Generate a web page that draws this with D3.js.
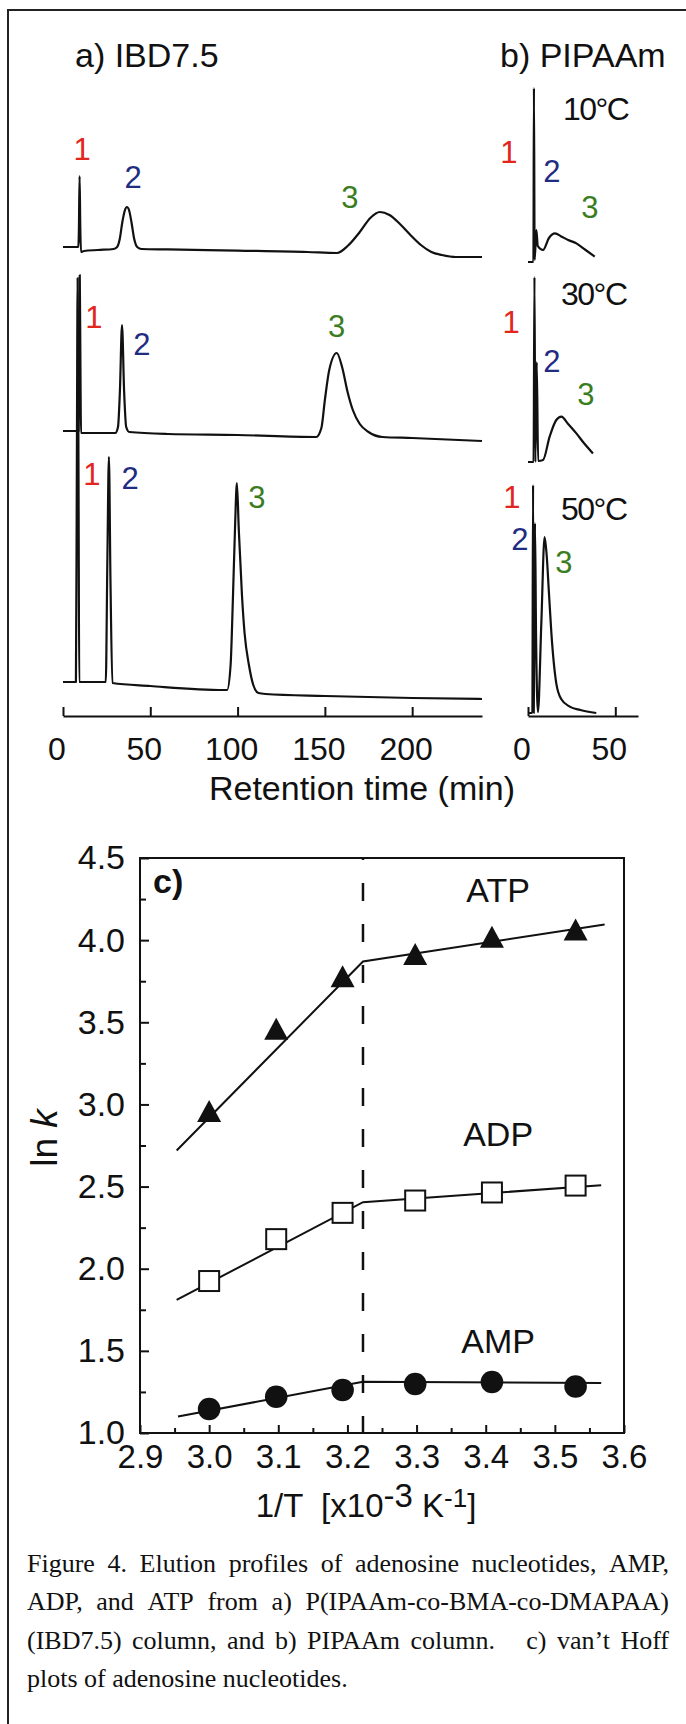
<!DOCTYPE html>
<html>
<head>
<meta charset="utf-8">
<script src="https://cdn.jsdelivr.net/npm/d3@7"></script>
<style>
  body { margin: 0; background: #fff; }
  svg { display: block; }
</style>
</head>
<body>
<div id="figure"></div>
<script>
// ---------- data ----------
const timeTicksA = [0, 50, 100, 150, 200];
const timeTicksB = [0, 50];

// panel a, IBD7.5 column: [retention time (min), signal (a.u.)]
const ibd10 = [[0,0],[8.8,0],[9.1,8],[9.5,35.5],[9.9,10],[10.3,-2.5],[12,-2],[20,-1.5],[29,-1],[31,0],[32.5,4],[34,12.5],[35.5,18.5],[36.6,20],[37.8,18.5],[39.2,12.5],[40.8,4],[42.5,0],[45,-1],[60,-1.2],[100,-1.8],[140,-2.5],[157,-3],[163,0.5],[170,7.5],[176,14.5],[181.5,17.5],[187,16],[193,11.5],[199,6],[205,1],[211,-2.5],[217,-4],[225,-5],[240,-5]];
const ibd30 = [[0,0],[8.9,0],[9.2,30],[9.6,78],[10,30],[10.3,-1],[20,-1],[30,-1],[31.5,2],[32.6,20],[33.8,53],[35,20],[36.2,2],[38,-0.5],[60,-1.5],[100,-2],[145,-3],[148,1.5],[150,15.5],[152.5,30.5],[156.8,39],[160,31.5],[163,19.5],[166,10.5],[170,3.5],[175,-0.5],[183,-3],[200,-3.5],[240,-5]];
const ibd50 = [[0,0],[7.4,0],[7.9,100],[8.4,202],[8.9,100],[9.3,0],[24.5,0],[25.4,60],[26.3,112.5],[27.2,50],[28.3,-0.5],[50,-2],[92,-4],[94,-4],[96,8.5],[97.3,41],[98.5,76],[99.6,99.5],[100.7,76],[102.5,43.5],[104,24.5],[106.5,8.5],[109,-1.5],[112,-5.5],[116,-6],[150,-7],[200,-8],[240,-8.5]];

// panel b, PIPAAm column
const pip10 = [[0,0],[3.1,0],[3.4,87],[3.8,1],[4.8,16],[5.6,8],[8.6,6],[12,12],[15.5,14.3],[19,12.8],[23,11],[27.7,9.3],[33,6],[38.2,2.7]];
const pip30 = [[0,0],[3.2,0],[3.7,92.5],[4.2,0],[5,50],[5.8,0.5],[8.6,1],[12.4,12.7],[16.2,21],[19.1,22.7],[23,19],[27.7,14.3],[32,9.5],[37.2,4.3]];
const pip50 = [[0,0],[2.5,0],[2.9,114],[3.3,0],[3.6,40],[4,95],[4.6,40],[5.7,0.5],[7.6,44],[9.5,88],[10.6,80],[12,60],[13.4,39.8],[16.2,14.8],[19,7],[23.9,3.2],[30,1.5],[39.1,0]];

// peak numbers: [time, signal, label]
const peaksIbd10 = [[10.9,43.5,"1"],[40.1,29.5,"2"],[164.3,19.5,"3"]];
const peaksIbd30 = [[17.7,51.5,"1"],[45.2,38,"2"],[156.8,47,"3"]];
const peaksIbd50 = [[16.6,98.5,"1"],[38.4,96.5,"2"],[111,87,"3"]];
const peaksPip10 = [[-10.9,49.5,"1"],[13.7,40,"2"],[35.5,22,"3"]];
const peaksPip30 = [[-9.7,64.5,"1"],[13.7,45,"2"],[33.2,28.5,"3"]];
const peaksPip50 = [[-9.2,102.5,"1"],[-4.6,81.5,"2"],[20.6,70,"3"]];
const temps = ["10\u00B0C", "30\u00B0C", "50\u00B0C"];

// panel c, van't Hoff plot
const invT = [3.0, 3.097, 3.193, 3.298, 3.409, 3.53];
const lnkATP = [2.96, 3.46, 3.78, 3.915, 4.02, 4.065];
const lnkADP = [1.925, 2.18, 2.34, 2.415, 2.464, 2.506];
const lnkAMP = [1.146, 1.221, 1.262, 1.298, 1.31, 1.283];
const breakInvT = 3.2225;
const fitATP = [[2.953, 2.72], [3.2225, 3.87], [3.572, 4.095]];
const fitADP = [[2.953, 1.81], [3.2225, 2.405], [3.567, 2.508]];
const fitAMP = [[2.955, 1.10], [3.2225, 1.312], [3.567, 1.305]];
const lnkTicks = [1.0, 1.5, 2.0, 2.5, 3.0, 3.5, 4.0, 4.5];
const lnkMinor = [1.25, 1.75, 2.25, 2.75, 3.25, 3.75, 4.25];
const invTTicks = [2.9, 3.0, 3.1, 3.2, 3.3, 3.4, 3.5, 3.6];
const invTMinor = [2.95, 3.05, 3.15, 3.25, 3.35, 3.45, 3.55];
const seriesNames = ["ATP", "ADP", "AMP"];

const captionLines = [
    "Figure 4. Elution profiles of adenosine nucleotides, AMP,",
    "ADP, and ATP from a) P(IPAAm-co-BMA-co-DMAPAA)",
    "(IBD7.5) column, and b) PIPAAm column.   c) van\u2019t Hoff",
    "plots of adenosine nucleotides."
];

// ---------- drawing ----------
const W = 686, H = 1724;
const sans = "'Liberation Sans', Arial, Helvetica, sans-serif";
const peakColor = {"1": "#e3261d", "2": "#1f2c82", "3": "#3a7d1f"};

const svg = d3.select("#figure").append("svg")
    .attr("width", W)
    .attr("height", H)
    .attr("font-family", sans);

svg.append("rect").attr("width", W).attr("height", H).attr("fill", "#fff");

// scanned page border (top + left)
svg.append("path")
    .attr("d", "M8,1724V10H686")
    .attr("fill", "none")
    .attr("stroke", "#222")
    .attr("stroke-width", 2);

// shared time scales for panels a and b (same min/px)
const xA = d3.scaleLinear().domain([0, 240]).range([63, 482]);
const xB = d3.scaleLinear().domain([0, 63]).range([528, 638]);
const baseA = [247, 431, 682];
const baseB = [262, 462, 713];
const axisY = 716;

function drawTraces(x, bases, traces, peaks) {
    traces.forEach((tr, i) => {
        const y = d3.scaleLinear().domain([0, 100]).range([bases[i], bases[i] - 200]);
        const line = d3.line()
            .x(d => x(d[0]))
            .y(d => y(d[1]))
            .curve(d3.curveMonotoneX);

        svg.append("path")
            .datum(tr)
            .attr("d", line)
            .attr("fill", "none")
            .attr("stroke", "#111")
            .attr("stroke-width", 2.2)
            .attr("stroke-linejoin", "round");

        svg.append("g").selectAll("text")
            .data(peaks[i])
            .enter()
            .append("text")
            .attr("x", d => x(d[0]))
            .attr("y", d => y(d[1]))
            .attr("text-anchor", "middle")
            .attr("font-size", 31)
            .attr("fill", d => peakColor[d[2]])
            .text(d => d[2]);
    });
}

drawTraces(xA, baseA, [ibd10, ibd30, ibd50], [peaksIbd10, peaksIbd30, peaksIbd50]);
drawTraces(xB, baseB, [pip10, pip30, pip50], [peaksPip10, peaksPip30, peaksPip50]);

// temperature labels in panel b
const tempPos = [[20, 71], [18.9, 78.5], [18.9, 96.5]];
temps.forEach((t, i) => {
    const y = d3.scaleLinear().domain([0, 100]).range([baseB[i], baseB[i] - 200]);
    svg.append("text")
        .attr("x", xB(tempPos[i][0]))
        .attr("y", y(tempPos[i][1]))
        .attr("font-size", 32)
        .attr("letter-spacing", -1.5)
        .attr("fill", "#111")
        .text(t);
});

// panel titles
svg.append("text").attr("x", 75).attr("y", 67).attr("font-size", 34).attr("fill", "#111").text("a) IBD7.5");
svg.append("text").attr("x", 500).attr("y", 67).attr("font-size", 34).attr("fill", "#111").text("b) PIPAAm");

// time axes
function timeAxis(x, ticks) {
    const g = svg.append("g")
        .attr("transform", `translate(0,${axisY})`)
        .call(d3.axisBottom(x).tickValues(ticks).tickSize(-9).tickSizeOuter(0).tickPadding(21));
    g.select(".domain").attr("stroke", "#111").attr("stroke-width", 2);
    g.selectAll(".tick line").attr("stroke", "#111").attr("stroke-width", 2);
    g.selectAll(".tick text")
        .attr("font-size", 32)
        .attr("font-family", sans)
        .attr("fill", "#111")
        .attr("dx", -6.5);
}
timeAxis(xA, timeTicksA);
timeAxis(xB, timeTicksB);

svg.append("text")
    .attr("x", 362)
    .attr("y", 800)
    .attr("text-anchor", "middle")
    .attr("font-size", 34)
    .attr("fill", "#111")
    .text("Retention time (min)");

// ---------- panel c ----------
const xC = d3.scaleLinear().domain([2.9, 3.6]).range([140, 624]);
const yC = d3.scaleLinear().domain([1.0, 4.5]).range([1433, 858]);

svg.append("rect")
    .attr("x", xC(2.9))
    .attr("y", yC(4.5))
    .attr("width", xC(3.6) - xC(2.9))
    .attr("height", yC(1.0) - yC(4.5))
    .attr("fill", "none")
    .attr("stroke", "#111")
    .attr("stroke-width", 2);

function styleAxis(g, size) {
    g.select(".domain").remove();
    g.selectAll(".tick line").attr("stroke", "#111").attr("stroke-width", 2);
    g.selectAll(".tick text").attr("font-size", size).attr("font-family", sans).attr("fill", "#111");
}

svg.append("g")
    .attr("transform", `translate(${xC(2.9)},0)`)
    .call(d3.axisLeft(yC).tickValues(lnkTicks).tickFormat(d3.format(".1f")).tickSize(-9).tickPadding(15))
    .call(g => styleAxis(g, 34));
svg.append("g")
    .attr("transform", `translate(${xC(2.9)},0)`)
    .call(d3.axisLeft(yC).tickValues(lnkMinor).tickFormat("").tickSize(-6))
    .call(g => styleAxis(g, 34));
svg.append("g")
    .attr("transform", `translate(0,${yC(1.0)})`)
    .call(d3.axisBottom(xC).tickValues(invTTicks).tickFormat(d3.format(".1f")).tickSize(-8).tickPadding(12))
    .call(g => styleAxis(g, 33));
svg.append("g")
    .attr("transform", `translate(0,${yC(1.0)})`)
    .call(d3.axisBottom(xC).tickValues(invTMinor).tickFormat("").tickSize(-5))
    .call(g => styleAxis(g, 33));

// transition line
svg.append("line")
    .attr("x1", xC(breakInvT)).attr("x2", xC(breakInvT))
    .attr("y1", yC(4.5)).attr("y2", yC(1.0))
    .attr("stroke", "#111")
    .attr("stroke-width", 2.5)
    .attr("stroke-dasharray", "18,23")
    .attr("stroke-dashoffset", 16);

// fitted lines
const fitLine = d3.line().x(d => xC(d[0])).y(d => yC(d[1]));
[fitATP, fitADP, fitAMP].forEach(f => {
    svg.append("path")
        .datum(f)
        .attr("d", fitLine)
        .attr("fill", "none")
        .attr("stroke", "#111")
        .attr("stroke-width", 2);
});

// markers
const pts = (vals) => invT.map((t, i) => [t, vals[i]]);

svg.append("g").selectAll("path")
    .data(pts(lnkATP))
    .enter()
    .append("path")
    .attr("transform", d => `translate(${xC(d[0])},${yC(d[1])})`)
    .attr("d", "M0,-11L12,11L-12,11Z")
    .attr("fill", "#111");

svg.append("g").selectAll("rect")
    .data(pts(lnkADP))
    .enter()
    .append("rect")
    .attr("x", d => xC(d[0]) - 10)
    .attr("y", d => yC(d[1]) - 10)
    .attr("width", 20)
    .attr("height", 20)
    .attr("fill", "#fff")
    .attr("stroke", "#111")
    .attr("stroke-width", 2);

svg.append("g").selectAll("circle")
    .data(pts(lnkAMP))
    .enter()
    .append("circle")
    .attr("cx", d => xC(d[0]))
    .attr("cy", d => yC(d[1]))
    .attr("r", 11.3)
    .attr("fill", "#111");

// series names (placed in data space) and panel letter
const namePos = [[3.418, 4.23], [3.418, 2.75], [3.418, 1.49]];
svg.append("g").selectAll("text")
    .data(seriesNames)
    .enter()
    .append("text")
    .attr("x", (d, i) => xC(namePos[i][0]))
    .attr("y", (d, i) => yC(namePos[i][1]))
    .attr("text-anchor", "middle")
    .attr("font-size", 34)
    .attr("fill", "#111")
    .text(d => d);

svg.append("text")
    .attr("x", 153).attr("y", 893)
    .attr("font-size", 34)
    .attr("font-weight", "bold")
    .attr("fill", "#111")
    .text("c)");

// axis titles
const yLab = svg.append("text")
    .attr("transform", "translate(57,1138) rotate(-90)")
    .attr("text-anchor", "middle")
    .attr("font-size", 37)
    .attr("fill", "#111")
    .text("ln ");
yLab.append("tspan").attr("font-style", "italic").text("k");

const xLab = svg.append("text")
    .attr("x", 366)
    .attr("y", 1517)
    .attr("text-anchor", "middle")
    .attr("font-size", 33)
    .attr("fill", "#111")
    .attr("xml:space", "preserve")
    .text("1/T  [x10");
xLab.append("tspan").attr("dy", -10).text("-3");
xLab.append("tspan").attr("dy", 10).text(" K");
xLab.append("tspan").attr("dy", -10).attr("font-size", 26).text("-1");
xLab.append("tspan").attr("dy", 10).text("]");

// ---------- caption (justified) ----------
const cap = svg.append("g")
    .attr("font-family", "'Liberation Serif', 'Times New Roman', serif")
    .attr("font-size", 26)
    .attr("fill", "#111");
const capLeft = 27, capRight = 669;

captionLines.forEach((line, i) => {
    const parts = line.split(/( +)/);
    const words = parts.filter((p, j) => j % 2 === 0);
    const gaps = parts.filter((p, j) => j % 2 === 1).map(g => g.length);
    const t = cap.append("text").attr("y", 1572 + i * 38.3);
    const spans = words.map(w => t.append("tspan").text(w));
    const widths = spans.map(s => s.node().getComputedTextLength());
    const last = i === captionLines.length - 1;
    const unit = last ? 6.5 : (capRight - capLeft - d3.sum(widths)) / d3.sum(gaps);
    let x = capLeft;
    spans.forEach((s, k) => {
        s.attr("x", x);
        x += widths[k] + (gaps[k] || 0) * unit;
    });
});
</script>
</body>
</html>
